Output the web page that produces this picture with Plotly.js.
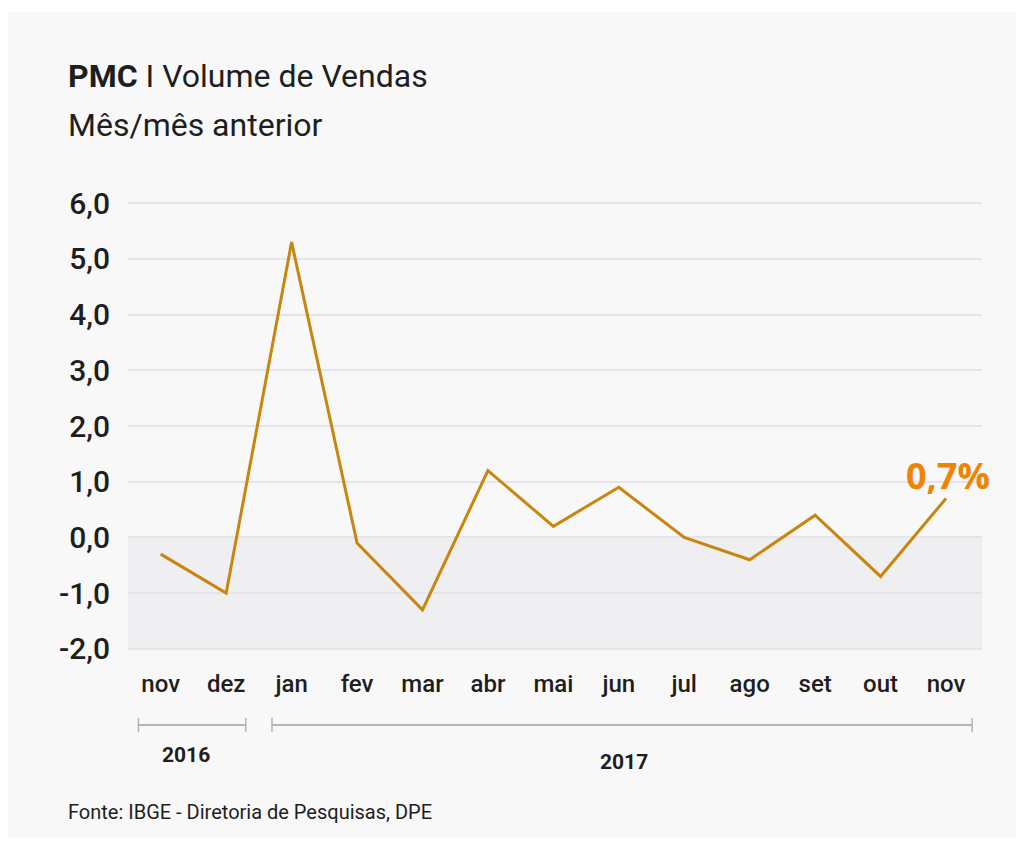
<!DOCTYPE html>
<html>
<head>
<meta charset="utf-8">
<script src="https://cdn.plot.ly/plotly-3.0.1.min.js"></script>
<style>
html,body{margin:0;padding:0;background:#ffffff;}
#chart{position:absolute;left:8px;top:12px;width:1008px;height:826px;}
</style>
</head>
<body>
<div id="chart"></div>
<script>
// Data
var months = ["nov","dez","jan","fev","mar","abr","mai","jun","jul","ago","set","out","nov"];
var values = [-0.3,-1.0,5.3,-0.1,-1.3,1.2,0.2,0.9,0.0,-0.4,0.4,-0.7,0.7];
var yTicks = [-2,-1,0,1,2,3,4,5,6];
var yTickText = ["-2,0","-1,0","0,0","1,0","2,0","3,0","4,0","5,0","6,0"];
var years = ["2016","2017"];
var titleMain = "<b>PMC</b> I Volume de Vendas";
var titleSub = "Mês/mês anterior";
var source = "Fonte: IBGE - Diretoria de Pesquisas, DPE";
var lastLabel = "0,7%";

var idx = months.map(function(_, i){ return i; });
var FONT = "Roboto, 'Liberation Sans', sans-serif";
var textCol = "#1e1e1e";
var bracketCol = "#b4b4bc";

var trace = {
  x: idx, y: values, type: "scatter", mode: "lines",
  line: {color: "#c8860e", width: 3},
  hoverinfo: "skip"
};

var shapes = [
  {type:"rect", xref:"paper", yref:"y", x0:0, x1:1, y0:-2.02, y1:0, fillcolor:"#efeff2", line:{width:0}, layer:"below"},
  // year brackets
  {type:"line", xref:"x", yref:"paper", x0:-0.34, x1:1.30, y0:-0.1674, y1:-0.1674, line:{color:bracketCol, width:2}},
  {type:"line", xref:"x", yref:"paper", x0:-0.34, x1:-0.34, y0:-0.152, y1:-0.183, line:{color:bracketCol, width:1.5}},
  {type:"line", xref:"x", yref:"paper", x0:1.30, x1:1.30, y0:-0.152, y1:-0.183, line:{color:bracketCol, width:1.5}},
  {type:"line", xref:"x", yref:"paper", x0:1.70, x1:12.40, y0:-0.1674, y1:-0.1674, line:{color:bracketCol, width:2}},
  {type:"line", xref:"x", yref:"paper", x0:1.70, x1:1.70, y0:-0.152, y1:-0.183, line:{color:bracketCol, width:1.5}},
  {type:"line", xref:"x", yref:"paper", x0:12.40, x1:12.40, y0:-0.152, y1:-0.183, line:{color:bracketCol, width:1.5}}
];

var annotations = [
  {text:titleMain, xref:"paper", yref:"paper", x:-0.0726, y:1.281, xanchor:"left", yanchor:"middle", showarrow:false, font:{family:FONT, size:32, color:textCol}},
  {text:titleSub, xref:"paper", yref:"paper", x:-0.0726, y:1.172, xanchor:"left", yanchor:"middle", showarrow:false, font:{family:FONT, size:32, color:textCol}},
  {text:"<b>"+years[0]+"</b>", xref:"x", yref:"paper", x:0.38, y:-0.234, xanchor:"center", yanchor:"middle", showarrow:false, font:{family:FONT, size:21, color:textCol}},
  {text:"<b>"+years[1]+"</b>", xref:"x", yref:"paper", x:7.08, y:-0.25, xanchor:"center", yanchor:"middle", showarrow:false, font:{family:FONT, size:21, color:textCol}},
  {text:source, xref:"paper", yref:"paper", x:-0.0726, y:-0.3616, xanchor:"left", yanchor:"middle", showarrow:false, font:{family:FONT, size:20, color:textCol}},
  {text:"<b>"+lastLabel+"</b>", xref:"x", yref:"y", x:idx[idx.length-1], y:values[values.length-1], xanchor:"center", yanchor:"middle", yshift:23, xshift:2, showarrow:false, font:{family:"'Open Sans', sans-serif", size:36, color:"#f08400"}}
];

var layout = {
  width:1008, height:826,
  margin:{l:120, r:34, t:190, b:188},
  paper_bgcolor:"#f8f8f8", plot_bgcolor:"rgba(0,0,0,0)",
  showlegend:false,
  xaxis:{
    range:[-0.5, 12.55], tickmode:"array", tickvals:idx, ticktext:months,
    showgrid:false, zeroline:false, showline:false, ticks:"",
    ticklabelstandoff:17,
    tickfont:{family:FONT, size:24, weight:500, color:textCol}, fixedrange:true
  },
  yaxis:{
    range:[-2.02, 6.02], tickmode:"array", tickvals:yTicks, ticktext:yTickText,
    showgrid:true, gridcolor:"#e4e4ea", gridwidth:2, zeroline:false, showline:false, ticks:"",
    ticklabelstandoff:17,
    tickfont:{family:FONT, size:30, weight:500, color:textCol}, fixedrange:true
  },
  shapes:shapes,
  annotations:annotations
};

Plotly.newPlot("chart", [trace], layout, {staticPlot:true, displayModeBar:false});
</script>
</body>
</html>
